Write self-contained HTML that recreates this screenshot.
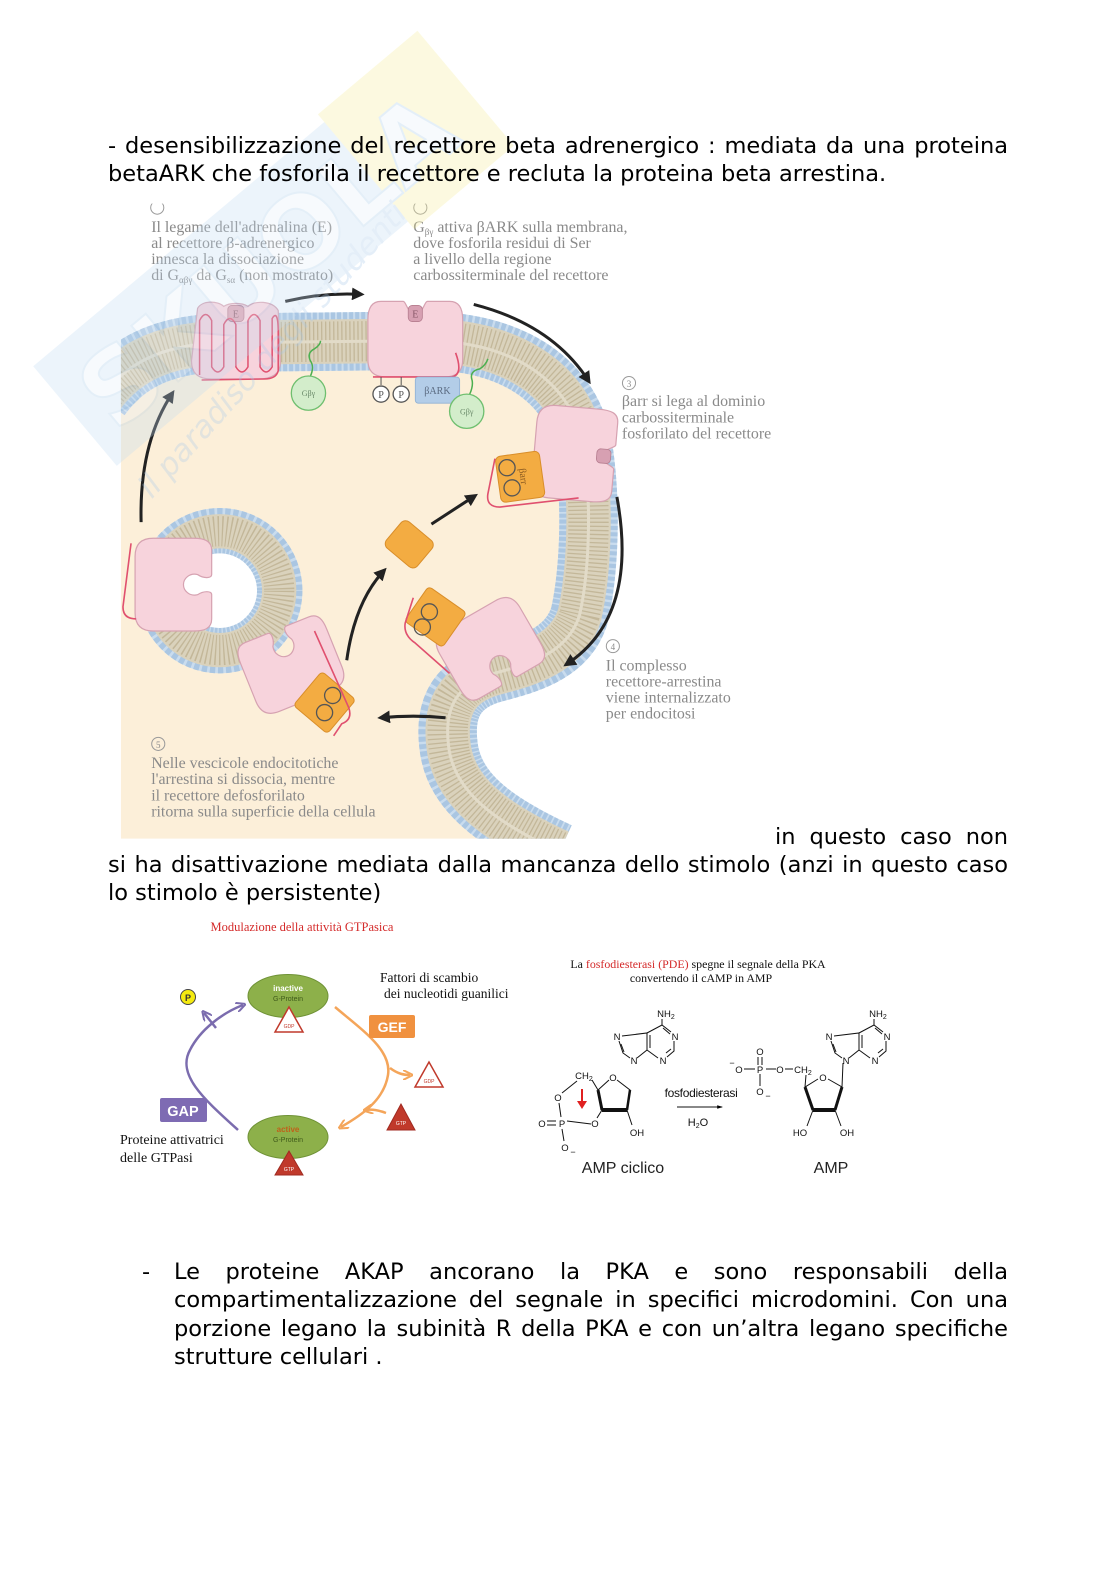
<!DOCTYPE html>
<html><head><meta charset="utf-8">
<style>
html,body{margin:0;padding:0;background:#fff;}
body{width:1116px;height:1579px;position:relative;overflow:hidden;}
.t{position:absolute;font-family:"DejaVu Sans","Liberation Sans",sans-serif;font-size:22.5px;color:#000;line-height:28.3px;}
.j{text-align:justify;text-align-last:justify;}
svg{position:absolute;left:0;top:0;}
</style></head>
<body>
<svg width="1116" height="1579" viewBox="0 0 1116 1579" xmlns="http://www.w3.org/2000/svg">
<defs>
<marker id="ah" viewBox="0 0 10 10" refX="7" refY="5" markerWidth="4.2" markerHeight="4.2" orient="auto"><path d="M0,0 L10,5 L0,10 z" fill="#222"/></marker>
<marker id="ahp" viewBox="0 0 10 10" refX="7" refY="5" markerWidth="4" markerHeight="4" orient="auto"><path d="M0,0 L10,5 L0,10" fill="none" stroke="#7b6cae" stroke-width="2"/></marker>
<marker id="aho" viewBox="0 0 10 10" refX="7" refY="5" markerWidth="4" markerHeight="4" orient="auto"><path d="M0,0 L10,5 L0,10" fill="none" stroke="#f4a55a" stroke-width="2"/></marker>
<marker id="ahk" viewBox="0 0 10 10" refX="8" refY="5" markerWidth="6" markerHeight="6" orient="auto"><path d="M0,2 L10,5 L0,8 z" fill="#000"/></marker>
<clipPath id="cl"><rect x="120" y="290" width="520" height="542"/></clipPath>
<clipPath id="cltop"><rect x="100" y="202" width="700" height="100"/></clipPath>
</defs>

<g transform="scale(1.008)">
<!-- ===== Diagram 1 : background & membranes ===== -->
<g clip-path="url(#cl)">
  <path d="M 100,395 C 125,360 160,343 215,340 L 420,338 C 505,338 565,375 578,440 C 588,500 584,570 575,610 C 563,650 520,660 490,668 C 455,678 440,700 445,740 C 450,785 490,815 555,845 L 100,845 Z" fill="#fcefd9"/>
  <g fill="none">
    <path d="M 100,395 C 125,360 160,343 215,340 L 420,338 C 505,338 565,375 578,440 C 588,500 584,570 575,610 C 563,650 520,660 490,668 C 455,678 440,700 445,740 C 450,785 490,815 555,845" stroke="#c9dcee" stroke-width="58"/>
    <path d="M 100,395 C 125,360 160,343 215,340 L 420,338 C 505,338 565,375 578,440 C 588,500 584,570 575,610 C 563,650 520,660 490,668 C 455,678 440,700 445,740 C 450,785 490,815 555,845" stroke="#aac6e2" stroke-width="58" stroke-dasharray="4 2"/>
    <path d="M 100,395 C 125,360 160,343 215,340 L 420,338 C 505,338 565,375 578,440 C 588,500 584,570 575,610 C 563,650 520,660 490,668 C 455,678 440,700 445,740 C 450,785 490,815 555,845" stroke="#dad2bc" stroke-width="44"/>
    <path d="M 100,395 C 125,360 160,343 215,340 L 420,338 C 505,338 565,375 578,440 C 588,500 584,570 575,610 C 563,650 520,660 490,668 C 455,678 440,700 445,740 C 450,785 490,815 555,845" stroke="#c3b799" stroke-width="40" stroke-dasharray="1.3 2.7"/>
    <path d="M 100,395 C 125,360 160,343 215,340 L 420,338 C 505,338 565,375 578,440 C 588,500 584,570 575,610 C 563,650 520,660 490,668 C 455,678 440,700 445,740 C 450,785 490,815 555,845" stroke="#e2dbc8" stroke-width="3"/>
  </g>
  <!-- vesicle -->
  <circle cx="218" cy="586" r="59" fill="none" stroke="#c9dcee" stroke-width="46"/>
  <circle cx="218" cy="586" r="59" fill="none" stroke="#aac6e2" stroke-width="46" stroke-dasharray="4 2"/>
  <circle cx="218" cy="586" r="59" fill="none" stroke="#dad2bc" stroke-width="34"/>
  <circle cx="218" cy="586" r="59" fill="none" stroke="#c3b799" stroke-width="30" stroke-dasharray="1.3 2.7"/>
  <circle cx="218" cy="586" r="37" fill="#fff"/>
</g>

<!-- R1 : 7TM receptor -->
<g>
  <path d="M 196,306 C 200,298 216,298 222,304 C 228,300 240,300 246,304 C 252,298 270,298 276,308 L 278,360 C 278,372 268,376 256,376 L 210,376 C 196,376 190,370 190,358 Z" fill="#f7d3dc" stroke="#d6a2b1" stroke-width="1.2"/>
  <rect x="226" y="303" width="16" height="16" rx="4" fill="#d7a0b2" stroke="#b67d8f" stroke-width="0.8"/>
  <text x="234" y="315" font-family="Liberation Serif,serif" font-size="10" fill="#8a5a6a" text-anchor="middle">E</text>
  <path d="M 198,372 L 198,318 Q 204,306 210,318 L 210,364 Q 216,374 222,364 L 222,322 Q 228,310 234,322 L 234,364 Q 240,374 246,364 L 246,318 Q 252,306 258,318 L 258,364 Q 264,374 270,364 L 270,316 Q 276,306 276,330 L 276,368 Q 274,376 262,376 L 200,377" fill="none" stroke="#e0506f" stroke-width="1.5"/>
</g>

<!-- R2 -->
<g transform="translate(412,337)">
  <path d="M -34,-38 C -44,-38 -47,-30 -47,-20 L -47,20 C -47,34 -38,37 -28,37 L 28,37 C 38,37 47,34 47,20 L 47,-20 C 47,-30 44,-38 34,-38 L 12,-38 C 9,-38 8,-26 0,-26 C -8,-26 -9,-38 -12,-38 Z" fill="#f7d3dc" stroke="#d6a2b1" stroke-width="1.2"/>
  <rect x="-7" y="-34" width="14" height="16" rx="4" fill="#d7a0b2" stroke="#b67d8f" stroke-width="0.8"/>
  <text x="0" y="-22" font-family="Liberation Serif,serif" font-size="10" fill="#8a5a6a" text-anchor="middle">E</text>
</g>
<path d="M 370,374 L 448,374 Q 460,372 452,350" fill="none" stroke="#e0506f" stroke-width="1.6"/>
<line x1="378" y1="374" x2="378" y2="382" stroke="#555" stroke-width="1"/>
<line x1="398" y1="374" x2="398" y2="382" stroke="#555" stroke-width="1"/>
<circle cx="378" cy="391" r="8" fill="#fff" stroke="#555" stroke-width="1.3"/>
<circle cx="398" cy="391" r="8" fill="#fff" stroke="#555" stroke-width="1.3"/>
<text x="378" y="395" font-family="Liberation Serif,serif" font-size="10" fill="#555" text-anchor="middle">P</text>
<text x="398" y="395" font-family="Liberation Serif,serif" font-size="10" fill="#555" text-anchor="middle">P</text>
<rect x="412" y="374" width="44" height="26" rx="3" fill="#b3cde8" stroke="#8fb0d4" stroke-width="0.8"/>
<text x="434" y="391" font-family="Liberation Serif,serif" font-size="10" fill="#5a6a80" text-anchor="middle">βARK</text>

<!-- G beta gamma -->
<path d="M 308,373 Q 312,364 308,358 Q 304,350 312,346 Q 318,342 318,338" fill="none" stroke="#4caf50" stroke-width="1.5"/>
<circle cx="306" cy="390" r="17" fill="#d3edcb" stroke="#6fbf6f" stroke-width="1.3"/>
<text x="306" y="393" font-family="Liberation Serif,serif" font-size="8" fill="#6a8a6a" text-anchor="middle">Gβγ</text>
<path d="M 466,391 Q 470,382 468,376 Q 466,368 476,366 Q 482,362 484,356" fill="none" stroke="#4caf50" stroke-width="1.5"/>
<circle cx="463" cy="408" r="17" fill="#d3edcb" stroke="#6fbf6f" stroke-width="1.3"/>
<text x="463" y="411" font-family="Liberation Serif,serif" font-size="8" fill="#6a8a6a" text-anchor="middle">Gβγ</text>

<!-- R3 with beta-arrestin -->
<g transform="translate(570,450) rotate(95)">
  <path d="M -34,-40 C -44,-40 -46,-32 -46,-20 L -46,22 C -46,36 -38,40 -28,40 L 28,40 C 38,40 46,36 46,22 L 46,-20 C 46,-32 44,-40 34,-40 L 12,-40 C 9,-40 8,-28 0,-28 C -8,-28 -9,-40 -12,-40 Z" fill="#f7d3dc" stroke="#d6a2b1" stroke-width="1.2"/>
  <rect x="-7" y="-36" width="14" height="14" rx="4" fill="#d7a0b2" stroke="#b67d8f" stroke-width="0.8"/>
</g>
<g transform="translate(516,473) rotate(-8)">
  <rect x="-22" y="-23" width="44" height="46" rx="5" fill="#f3ac42" stroke="#d98e2a" stroke-width="1"/>
  <text x="0" y="0" transform="rotate(90)" font-family="Liberation Serif,serif" font-size="10" fill="#8a5a20" text-anchor="middle">βarr</text>
</g>
<circle cx="503" cy="464" r="8" fill="none" stroke="#555" stroke-width="1.3"/>
<circle cx="508" cy="484" r="8" fill="none" stroke="#555" stroke-width="1.3"/>
<path d="M 491,455 L 484,490 Q 482,503 496,503 L 574,494" fill="none" stroke="#e0506f" stroke-width="1.6"/>

<!-- free beta arrestin -->
<rect x="386" y="523" width="40" height="34" rx="6" fill="#f3ac42" stroke="#d98e2a" stroke-width="1" transform="rotate(40 406 540)"/>

<!-- R4 at neck -->
<g transform="translate(486,643) rotate(150)">
  <path d="M -34,-38 C -44,-38 -46,-30 -46,-20 L -46,20 C -46,34 -38,38 -28,38 L 28,38 C 38,38 46,34 46,20 L 46,-20 C 46,-30 44,-38 34,-38 L 10,-38 C 6,-38 6,-30 10,-24 C 12,-16 6,-10 0,-10 C -6,-10 -12,-16 -10,-24 C -6,-30 -6,-38 -10,-38 Z" fill="#f7d3dc" stroke="#d6a2b1" stroke-width="1.2"/>
</g>
<rect x="409" y="591" width="46" height="42" rx="4" fill="#f3ac42" stroke="#d98e2a" stroke-width="1" transform="rotate(35 432 612)"/>
<circle cx="426" cy="607" r="8" fill="none" stroke="#555" stroke-width="1.3"/>
<circle cx="419" cy="622" r="8" fill="none" stroke="#555" stroke-width="1.3"/>
<path d="M 410,593 L 402,618 Q 400,630 412,638 L 446,668" fill="none" stroke="#e0506f" stroke-width="1.6"/>

<!-- R5 in vesicle left -->
<g transform="translate(172,580) rotate(90)">
  <path d="M -34,-38 C -44,-38 -46,-30 -46,-20 L -46,20 C -46,34 -38,38 -28,38 L 28,38 C 38,38 46,34 46,20 L 46,-20 C 46,-30 44,-38 34,-38 L 10,-38 C 6,-38 6,-30 10,-24 C 12,-16 6,-10 0,-10 C -6,-10 -12,-16 -10,-24 C -6,-30 -6,-38 -10,-38 Z" fill="#f7d3dc" stroke="#d6a2b1" stroke-width="1.2"/>
</g>
<path d="M 130,539 L 122,602 Q 122,614 135,614" fill="none" stroke="#e0506f" stroke-width="1.6"/>

<!-- R6 in vesicle bottom right -->
<g transform="translate(289,660) rotate(-22)">
  <path d="M -34,-38 C -44,-38 -46,-30 -46,-20 L -46,20 C -46,34 -38,38 -28,38 L 28,38 C 38,38 46,34 46,20 L 46,-20 C 46,-30 44,-38 34,-38 L 10,-38 C 6,-38 6,-30 10,-24 C 12,-16 6,-10 0,-10 C -6,-10 -12,-16 -10,-24 C -6,-30 -6,-38 -10,-38 Z" fill="#f7d3dc" stroke="#d6a2b1" stroke-width="1.2"/>
</g>
<rect x="300" y="675" width="44" height="44" rx="4" fill="#f3ac42" stroke="#d98e2a" stroke-width="1" transform="rotate(40 322 697)"/>
<circle cx="330" cy="690" r="8" fill="none" stroke="#555" stroke-width="1.3"/>
<circle cx="322" cy="707" r="8" fill="none" stroke="#555" stroke-width="1.3"/>
<path d="M 312,626 L 346,702 Q 350,714 339,718 L 331,730" fill="none" stroke="#e0506f" stroke-width="1.6"/>

<!-- arrows diagram 1 -->
<g fill="none" stroke="#222" stroke-width="3" marker-end="url(#ah)">
  <path d="M 283,299 Q 320,290 358,292"/>
  <path d="M 470,302 Q 548,322 584,378"/>
  <path d="M 612,493 Q 634,612 562,659"/>
  <path d="M 442,712 Q 410,709 378,712"/>
  <path d="M 344,655 Q 352,597 381,566"/>
  <path d="M 428,520 L 471,492"/>
  <path d="M 140,518 Q 138,440 171,390"/>
</g>

<!-- labels diagram 1 -->
<g font-family="Liberation Serif,serif" font-size="15.8" fill="#8a8a8a">
  <g clip-path="url(#cltop)">
    <circle cx="156" cy="206" r="6.5" fill="none" stroke="#9a9a9a" stroke-width="1"/>
    <circle cx="417" cy="206" r="6.5" fill="none" stroke="#9a9a9a" stroke-width="1"/>
  </g>
  <text x="150" y="230">Il legame dell'adrenalina (E)</text>
  <text x="150" y="246">al recettore β-adrenergico</text>
  <text x="150" y="262">innesca la dissociazione</text>
  <text x="150" y="278">di G<tspan font-size="9" dy="3">αβγ</tspan><tspan dy="-3"> da G</tspan><tspan font-size="9" dy="3">sα</tspan><tspan dy="-3"> (non mostrato)</tspan></text>
  <text x="410" y="230">G<tspan font-size="9" dy="3">βγ</tspan><tspan dy="-3"> attiva βARK sulla membrana,</tspan></text>
  <text x="410" y="246">dove fosforila residui di Ser</text>
  <text x="410" y="262">a livello della regione</text>
  <text x="410" y="278">carbossiterminale del recettore</text>

  <circle cx="624" cy="380" r="6.5" fill="none" stroke="#9a9a9a" stroke-width="1"/>
  <text x="624" y="384" font-size="9" text-anchor="middle">3</text>
  <text x="617" y="403">βarr si lega al dominio</text>
  <text x="617" y="419">carbossiterminale</text>
  <text x="617" y="435">fosforilato del recettore</text>

  <circle cx="608" cy="641" r="6.5" fill="none" stroke="#9a9a9a" stroke-width="1"/>
  <text x="608" y="645" font-size="9" text-anchor="middle">4</text>
  <text x="601" y="665">Il complesso</text>
  <text x="601" y="681">recettore-arrestina</text>
  <text x="601" y="697">viene internalizzato</text>
  <text x="601" y="713">per endocitosi</text>

  <circle cx="157" cy="738" r="6.5" fill="none" stroke="#9a9a9a" stroke-width="1"/>
  <text x="157" y="742" font-size="9" text-anchor="middle">5</text>
  <text x="150" y="762">Nelle vescicole endocitotiche</text>
  <text x="150" y="778">l'arrestina si dissocia, mentre</text>
  <text x="150" y="794">il recettore defosforilato</text>
  <text x="150" y="810">ritorna sulla superficie della cellula</text>
</g>
</g>

<!-- ===== GTPase diagram ===== -->
<text x="302" y="931" font-family="Liberation Serif,serif" font-size="12.5" fill="#d42a2a" text-anchor="middle">Modulazione della attività GTPasica</text>
<g fill="none" stroke-width="2.5">
  <path d="M 238,1130 C 205,1100 176,1075 190,1050 C 200,1030 222,1013 243,1005" stroke="#7b6cae" marker-end="url(#ahp)"/>
  <path d="M 216,1028 L 204,1013" stroke="#7b6cae" marker-end="url(#ahp)"/>
  <path d="M 335,1007 C 362,1030 392,1050 388,1075 C 384,1100 362,1115 341,1127" stroke="#f4a55a" marker-end="url(#aho)"/>
  <path d="M 390,1068 C 398,1074 404,1075 410,1075" stroke="#f4a55a" marker-end="url(#aho)"/>
  <path d="M 386,1113 C 378,1110 372,1109 366,1110" stroke="#f4a55a" marker-end="url(#aho)"/>
</g>
<circle cx="188" cy="997" r="7.5" fill="#f4ea10" stroke="#444" stroke-width="1"/>
<text x="188" y="1001" font-family="Liberation Sans,sans-serif" font-size="9" font-weight="bold" fill="#333" text-anchor="middle">P</text>
<ellipse cx="288" cy="996" rx="40" ry="21.5" fill="#8db04a" stroke="#6f9236" stroke-width="1"/>
<text x="288" y="991" font-family="Liberation Sans,sans-serif" font-size="8" font-weight="bold" fill="#fff" text-anchor="middle">inactive</text>
<text x="288" y="1001" font-family="Liberation Sans,sans-serif" font-size="7" fill="#3f5a1a" text-anchor="middle">G-Protein</text>
<polygon points="289,1007 275,1032 303,1032" fill="#fff" stroke="#c0392b" stroke-width="1.5"/>
<text x="289" y="1028" font-family="Liberation Sans,sans-serif" font-size="5" fill="#c0392b" text-anchor="middle">GDP</text>
<ellipse cx="288" cy="1137" rx="40" ry="21.5" fill="#8db04a" stroke="#6f9236" stroke-width="1"/>
<text x="288" y="1132" font-family="Liberation Sans,sans-serif" font-size="8" font-weight="bold" fill="#c0601a" text-anchor="middle">active</text>
<text x="288" y="1142" font-family="Liberation Sans,sans-serif" font-size="7" fill="#3f5a1a" text-anchor="middle">G-Protein</text>
<polygon points="289,1151 275,1175 303,1175" fill="#c0392b" stroke="#a02a20" stroke-width="1"/>
<text x="289" y="1171" font-family="Liberation Sans,sans-serif" font-size="5" fill="#fff" text-anchor="middle">GTP</text>
<polygon points="429,1062 415,1087 443,1087" fill="#fff" stroke="#c0392b" stroke-width="1.5"/>
<text x="429" y="1083" font-family="Liberation Sans,sans-serif" font-size="5" fill="#c0392b" text-anchor="middle">GDP</text>
<polygon points="401,1104 387,1130 415,1130" fill="#c0392b" stroke="#a02a20" stroke-width="1"/>
<text x="401" y="1125" font-family="Liberation Sans,sans-serif" font-size="5" fill="#fff" text-anchor="middle">GTP</text>
<rect x="369" y="1015" width="46" height="23" rx="2" fill="#f0913f"/>
<text x="392" y="1032" font-family="Liberation Sans,sans-serif" font-size="14" font-weight="bold" fill="#fff" text-anchor="middle">GEF</text>
<rect x="160" y="1098" width="47" height="24" rx="2" fill="#7e6bb3"/>
<text x="183" y="1116" font-family="Liberation Sans,sans-serif" font-size="14.5" font-weight="bold" fill="#fff" text-anchor="middle">GAP</text>
<g font-family="Liberation Serif,serif" fill="#111">
  <text x="380" y="982" font-size="13.5">Fattori di scambio</text>
  <text x="384" y="998" font-size="13.5">dei nucleotidi guanilici</text>
  <text x="120" y="1144" font-size="14">Proteine attivatrici</text>
  <text x="120" y="1162" font-size="14">delle GTPasi</text>
</g>

<!-- ===== Chemistry ===== -->
<g font-family="Liberation Serif,serif" font-size="11.9" fill="#111">
  <text x="698" y="968" text-anchor="middle">La <tspan fill="#d42a2a">fosfodiesterasi (PDE)</tspan> spegne il segnale della PKA</text>
  <text x="701" y="982" text-anchor="middle">convertendo il cAMP in AMP</text>
</g>
<g stroke="#111" stroke-width="1" fill="none">
  <path d="M 622,1036 L 647,1033 L 647,1050 L 637,1058"/>
  <path d="M 619,1041 L 623,1053 L 630,1058"/>
  <path d="M 621,1044 L 624,1052"/>
  <path d="M 650,1035 L 650,1048"/>
  <path d="M 647,1033 L 662,1025 L 671,1032"/>
  <path d="M 663,1028 L 670,1034"/>
  <path d="M 674,1041 L 674,1051 L 667,1057"/>
  <path d="M 671,1049 L 666,1053"/>
  <path d="M 658,1058 L 647,1050"/>
  <path d="M 662,1025 L 662,1019"/>
  <path d="M 598,1090 L 609,1080"/>
  <path d="M 617,1080 L 630,1090 L 627,1110"/>
  <path d="M 592,1080 L 598,1090"/>
  <path d="M 577,1081 L 562,1093"/>
  <path d="M 559,1103 L 561,1117"/>
  <path d="M 547,1121 L 556,1121 M 547,1125 L 556,1125"/>
  <path d="M 567,1121 L 591,1124"/>
  <path d="M 597,1118 L 602,1110"/>
  <path d="M 562,1129 L 564,1141"/>
  <path d="M 627,1110 L 632,1125"/>
  <path d="M 677,1107 L 722,1107" marker-end="url(#ahk)"/>
  <path d="M 834,1036 L 859,1033 L 859,1050 L 849,1058"/>
  <path d="M 831,1041 L 835,1053 L 842,1058"/>
  <path d="M 833,1044 L 836,1052"/>
  <path d="M 862,1035 L 862,1048"/>
  <path d="M 859,1033 L 874,1025 L 883,1032"/>
  <path d="M 875,1028 L 882,1034"/>
  <path d="M 886,1041 L 886,1051 L 879,1057"/>
  <path d="M 883,1049 L 878,1053"/>
  <path d="M 870,1058 L 859,1050"/>
  <path d="M 874,1025 L 874,1019"/>
  <path d="M 843,1063 L 842,1087"/>
  <path d="M 744,1069 L 755,1069 M 766,1069 L 776,1069 M 785,1069 L 793,1069"/>
  <path d="M 758,1057 L 758,1065 M 762,1057 L 762,1065"/>
  <path d="M 760,1074 L 760,1086"/>
  <path d="M 806,1075 L 805,1087 L 818,1079"/>
  <path d="M 828,1079 L 842,1087 L 835,1110"/>
  <path d="M 813,1110 L 807,1126"/>
  <path d="M 835,1110 L 841,1126"/>
</g>
<g stroke="#111" fill="none">
  <path d="M 598,1090 L 602,1110" stroke-width="3"/>
  <path d="M 602,1110 L 627,1110" stroke-width="4"/>
  <path d="M 630,1090 L 627,1110" stroke-width="2.5"/>
  <path d="M 805,1087 L 813,1110" stroke-width="3"/>
  <path d="M 813,1110 L 835,1110" stroke-width="4"/>
  <path d="M 842,1087 L 835,1110" stroke-width="3"/>
</g>
<path d="M 582,1089 L 582,1103" stroke="#e02020" stroke-width="2"/>
<path d="M 577,1101 L 582,1109 L 587,1101 Z" fill="#e02020"/>
<g font-family="Liberation Sans,sans-serif" font-size="9.5" fill="#111" text-anchor="middle">
  <text x="617" y="1040">N</text><text x="634" y="1064">N</text><text x="675" y="1040">N</text><text x="663" y="1064">N</text>
  <text x="666" y="1017">NH<tspan font-size="7" dy="2">2</tspan></text>
  <text x="613" y="1081">O</text>
  <text x="584" y="1079">CH<tspan font-size="7" dy="2">2</tspan></text>
  <text x="558" y="1101">O</text>
  <text x="562" y="1127">P</text>
  <text x="542" y="1127">O</text>
  <text x="595" y="1127">O</text>
  <text x="565" y="1151">O</text><text x="573" y="1155" font-size="9">−</text>
  <text x="637" y="1136">OH</text>
  <text x="829" y="1040">N</text><text x="846" y="1064">N</text><text x="887" y="1040">N</text><text x="875" y="1064">N</text>
  <text x="878" y="1017">NH<tspan font-size="7" dy="2">2</tspan></text>
  <text x="823" y="1081">O</text>
  <text x="739" y="1073">O</text><text x="732" y="1066" font-size="9">−</text>
  <text x="760" y="1073">P</text>
  <text x="780" y="1073">O</text>
  <text x="760" y="1055">O</text>
  <text x="760" y="1095">O</text><text x="768" y="1099" font-size="9">−</text>
  <text x="803" y="1073">CH<tspan font-size="7" dy="2">2</tspan></text>
  <text x="800" y="1136">HO</text>
  <text x="847" y="1136">OH</text>
</g>
<text x="701" y="1097" font-family="Liberation Sans,sans-serif" font-size="12" fill="#111" text-anchor="middle" letter-spacing="-0.3">fosfodiesterasi</text>
<text x="698" y="1126" font-family="Liberation Sans,sans-serif" font-size="11" fill="#111" text-anchor="middle">H<tspan font-size="7" dy="2">2</tspan><tspan dy="-2">O</tspan></text>
<text x="623" y="1173" font-family="Liberation Sans,sans-serif" font-size="16" fill="#222" text-anchor="middle">AMP ciclico</text>
<text x="831" y="1173" font-family="Liberation Sans,sans-serif" font-size="16" fill="#222" text-anchor="middle">AMP</text>
</svg>

<!-- watermark -->
<svg width="1116" height="1579" viewBox="0 0 1116 1579" xmlns="http://www.w3.org/2000/svg" style="opacity:0.3">
  <g transform="rotate(-40 255 265)">
    <rect x="20" y="200" width="470" height="130" fill="#c3dcf2"/>
    <rect x="400" y="190" width="130" height="150" fill="#f6ee9c"/>
    <text x="40" y="305" font-family="DejaVu Sans,sans-serif" font-weight="bold" font-size="100" fill="#e6f0fa" stroke="#a9cbea" stroke-width="2">SKUOLA</text>
  </g>
  <text x="280" y="357" transform="rotate(-48 280 357)" font-family="DejaVu Sans,sans-serif" font-style="italic" font-size="31" fill="#a7c9ea" text-anchor="middle">il paradiso degli studenti</text>
</svg>

<!-- body text -->
<div class="t" style="left:108px;top:132px;width:900px;">
  <div class="j">- desensibilizzazione del recettore beta adrenergico : mediata da una proteina</div>
  <div>betaARK che fosforila il recettore e recluta la proteina beta arrestina.</div>
</div>
<div class="t j" style="left:775px;top:823px;width:233px;">in questo caso non</div>
<div class="t j" style="left:108px;top:851px;width:900px;">si ha disattivazione mediata dalla mancanza dello stimolo (anzi in questo caso</div>
<div class="t" style="left:108px;top:879px;">lo stimolo è persistente)</div>

<div class="t" style="left:142px;top:1258px;">-</div>
<div class="t" style="left:174px;top:1258px;width:834px;">
  <div class="j">Le proteine AKAP ancorano la PKA e sono responsabili della</div>
  <div class="j">compartimentalizzazione del segnale in specifici microdomini. Con una</div>
  <div class="j">porzione legano la subinità R della PKA e con un’altra legano specifiche</div>
  <div>strutture cellulari .</div>
</div>
</body></html>
